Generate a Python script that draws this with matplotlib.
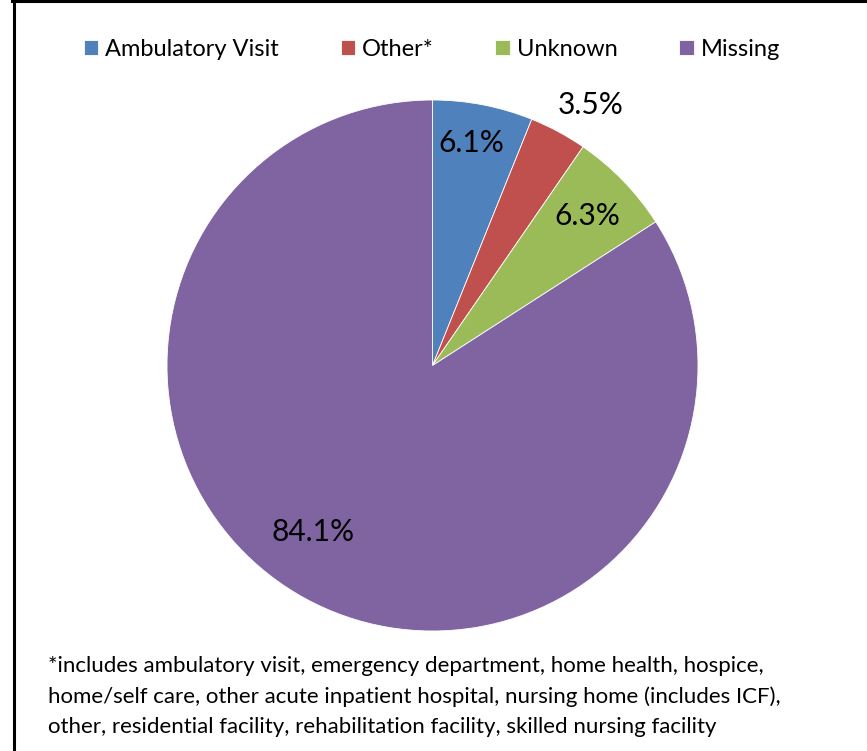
import matplotlib
matplotlib.use('Agg')
import matplotlib.pyplot as plt
import numpy as np
from matplotlib.lines import Line2D

plt.rcParams['font.family'] = ['Lato', 'DejaVu Sans']

# Discharge destination shares (%)
categories = ['Ambulatory Visit', 'Other*', 'Unknown', 'Missing']
shares = [6.1, 3.5, 6.3, 84.1]
colors = ['#4F81BD', '#C0504D', '#9BBB59', '#8064A2']
footnote = ('*includes ambulatory visit, emergency department, home health, hospice,\n'
            'home/self care, other acute inpatient hospital, nursing home (includes ICF),\n'
            'other, residential facility, rehabilitation facility, skilled nursing facility')

# label placement: radial distance and angular nudge (deg) per slice
label_dist = [0.85, 1.15, 0.81, 0.77]
label_nudge = [1.0, -3.0, 0.0, -7.0]

W, H = 867, 751
fig = plt.figure(figsize=(W / 100, H / 100), dpi=100)

cx, cy, r = 432.5, 365.5, 265.5
ax = fig.add_axes([(cx - r) / W, (H - cy - r) / H, 2 * r / W, 2 * r / H])
wedges, _ = ax.pie(shares, colors=colors, startangle=90, counterclock=False,
                   wedgeprops=dict(edgecolor='white', linewidth=0.6))
ax.set_xlim(-1, 1)
ax.set_ylim(-1, 1)

for w, val, d, nudge in zip(wedges, shares, label_dist, label_nudge):
    ang = np.deg2rad((w.theta1 + w.theta2) / 2 + nudge)
    ax.text(d * np.cos(ang), d * np.sin(ang), f'{val:.1f}%',
            ha='center', va='center', fontsize=21.5, color='black')

fig.legend(wedges, categories, loc='center', bbox_to_anchor=(432 / W, 1 - 49 / H),
           ncol=4, frameon=False, fontsize=17, handlelength=0.62, handleheight=0.62,
           handletextpad=0.3, columnspacing=2.6)

fig.text(48 / W, 1 - 656 / H, footnote, ha='left', va='top', fontsize=16,
         linespacing=1.62)

# chart border (top and left edges)
fig.add_artist(Line2D([12 / W, 1], [1 - 1 / H, 1 - 1 / H], transform=fig.transFigure,
                      color='black', linewidth=2.2))
fig.add_artist(Line2D([13.5 / W, 13.5 / W], [0, 1], transform=fig.transFigure,
                      color='black', linewidth=2.2))

fig.savefig('out.png', dpi=100)
